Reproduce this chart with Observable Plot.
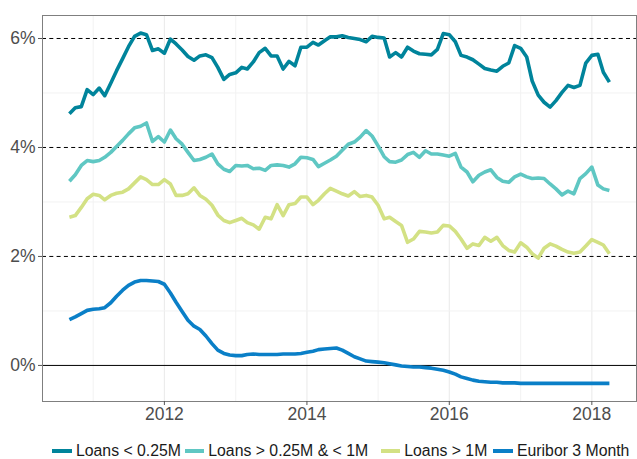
<!DOCTYPE html>
<html><head><meta charset="utf-8">
<script src="https://cdn.jsdelivr.net/npm/d3@7"></script>
<script src="https://cdn.jsdelivr.net/npm/@observablehq/plot@0.6"></script>
<style>
body{margin:0;background:#fff;font-family:"Liberation Sans",Arial,sans-serif;}
#legend{position:relative;width:637px;height:31px;font-size:15.8px;line-height:15.8px;color:#1a1a1a;white-space:nowrap}
.key{position:absolute;top:21.3px;width:19.5px;height:3.5px}
.lab{position:absolute;top:15.3px}
</style></head><body><div id="chart"></div><div id="legend"></div>
<script>
const seriesNames = ["Loans < 0.25M", "Loans > 0.25M & < 1M", "Loans > 1M", "Euribor 3 Month"];
const seriesColors = ["#00849b", "#5fc7c3", "#d3e184", "#0a7fc7"];
// monthly, Sep 2010 .. Apr 2018
const loansSmall = [4.62,4.73,4.75,5.06,4.97,5.09,4.95,5.18,5.41,5.63,5.85,6.04,6.10,6.07,5.78,5.81,5.73,5.99,5.90,5.79,5.67,5.60,5.68,5.70,5.65,5.47,5.25,5.34,5.37,5.47,5.44,5.57,5.74,5.82,5.68,5.68,5.44,5.58,5.50,5.84,5.84,5.93,5.88,5.96,6.03,6.03,6.05,6.02,6.00,5.98,5.94,6.04,6.02,6.01,5.66,5.74,5.66,5.84,5.77,5.72,5.71,5.70,5.80,6.09,6.07,5.94,5.69,5.66,5.61,5.53,5.45,5.42,5.40,5.49,5.55,5.87,5.82,5.66,5.22,4.96,4.83,4.74,4.86,5.01,5.14,5.10,5.14,5.55,5.69,5.71,5.38,5.20];
const loansMid = [3.38,3.50,3.67,3.76,3.74,3.76,3.82,3.91,4.02,4.13,4.25,4.36,4.39,4.45,4.11,4.20,4.10,4.32,4.16,4.06,3.91,3.76,3.78,3.82,3.88,3.70,3.60,3.56,3.67,3.66,3.67,3.61,3.62,3.58,3.67,3.68,3.67,3.64,3.70,3.82,3.81,3.78,3.65,3.71,3.77,3.84,3.95,4.06,4.10,4.19,4.31,4.21,4.03,3.83,3.74,3.73,3.77,3.87,3.91,3.82,3.94,3.88,3.88,3.86,3.84,3.89,3.64,3.55,3.37,3.49,3.55,3.59,3.45,3.38,3.36,3.46,3.51,3.46,3.43,3.44,3.43,3.33,3.24,3.13,3.20,3.15,3.43,3.52,3.64,3.31,3.24,3.21];
const loansLarge = [2.72,2.75,2.90,3.06,3.14,3.12,3.04,3.12,3.16,3.18,3.24,3.35,3.46,3.41,3.32,3.32,3.41,3.33,3.12,3.12,3.15,3.26,3.12,3.05,2.94,2.76,2.66,2.62,2.66,2.70,2.62,2.58,2.50,2.72,2.69,2.95,2.75,2.95,2.97,3.09,3.09,2.95,3.03,3.15,3.25,3.20,3.15,3.11,3.19,3.10,3.12,3.09,2.94,2.69,2.72,2.64,2.57,2.26,2.32,2.46,2.45,2.43,2.45,2.57,2.56,2.46,2.32,2.15,2.23,2.20,2.35,2.28,2.35,2.20,2.11,2.08,2.25,2.17,2.05,1.97,2.15,2.23,2.19,2.13,2.08,2.06,2.08,2.19,2.31,2.26,2.21,2.05];
const euribor3m = [0.84,0.89,0.95,1.01,1.03,1.04,1.06,1.15,1.27,1.38,1.47,1.53,1.56,1.56,1.55,1.54,1.49,1.33,1.16,0.99,0.83,0.72,0.66,0.54,0.40,0.28,0.22,0.19,0.18,0.18,0.20,0.21,0.20,0.20,0.20,0.20,0.21,0.21,0.21,0.22,0.24,0.26,0.29,0.30,0.31,0.32,0.28,0.22,0.16,0.12,0.08,0.07,0.06,0.05,0.03,0.01,-0.01,-0.02,-0.03,-0.03,-0.04,-0.05,-0.07,-0.09,-0.12,-0.16,-0.21,-0.24,-0.27,-0.29,-0.30,-0.31,-0.31,-0.32,-0.32,-0.32,-0.33,-0.33,-0.33,-0.33,-0.33,-0.33,-0.33,-0.33,-0.33,-0.33,-0.33,-0.33,-0.33,-0.33,-0.33,-0.33];
const yTicks = [0, 2, 4, 6];
const yMinor = [1, 3, 5];
const xMajorYears = [2012, 2014, 2016, 2018];
const xMinorYears = [2011, 2013, 2015, 2017];

const months = d3.utcMonth.range(new Date(Date.UTC(2010, 8, 1)), new Date(Date.UTC(2018, 4, 1)));
const allSeries = [loansSmall, loansMid, loansLarge, euribor3m];
const rows = allSeries.flatMap((vals, s) => vals.map((v, i) => ({date: months[i], value: v, series: seriesNames[s]})));
const yearDate = y => new Date(Date.UTC(y, 0, 1));

const chart = Plot.plot({
  width: 637, height: 428,
  marginLeft: 42, marginRight: 1, marginTop: 15, marginBottom: 27,
  style: {fontFamily: '"Liberation Sans", Arial, sans-serif', fontSize: "17.5px", background: "#fff"},
  x: {type: "utc", domain: [new Date(Date.UTC(2010, 3, 16)), new Date(Date.UTC(2018, 7, 18))]},
  y: {domain: [-0.662, 6.422]},
  color: {domain: seriesNames, range: seriesColors},
  marks: [
    Plot.ruleX(xMinorYears.map(yearDate), {stroke: "#f2f2f2", strokeWidth: 1}),
    Plot.ruleX(xMajorYears.map(yearDate), {stroke: "#ebebeb", strokeWidth: 1.1}),
    Plot.ruleY(yMinor, {stroke: "#f2f2f2", strokeWidth: 1}),
    Plot.ruleY(yTicks.filter(d => d !== 0), {stroke: "#000", strokeWidth: 1, strokeDasharray: "4,3.3"}),
    Plot.ruleY([0], {stroke: "#000", strokeWidth: 1}),
    Plot.line(rows, {x: "date", y: "value", z: "series", stroke: "series", strokeWidth: 3.6, strokeLinejoin: "round", strokeLinecap: "butt"}),
    Plot.frame({stroke: "#7f7f7f", strokeWidth: 1}),
    Plot.axisX(xMajorYears.map(yearDate), {tickSize: 4, tickPadding: 2.3, tickFormat: d3.utcFormat("%Y"), stroke: "#555", fill: "#4d4d4d", label: null}),
    Plot.axisY(yTicks, {tickSize: 4, tickPadding: 3, tickFormat: d => d + "%", stroke: "#555", fill: "#4d4d4d", label: null})
  ]
});
document.getElementById("chart").append(chart);

// legend (HTML, below the plot SVG)
const legendTextLeft = [76, 208.3, 404.3, 517];
const legend = document.getElementById("legend");
seriesNames.forEach((name, i) => {
  const key = document.createElement("div");
  key.className = "key";
  key.style.left = (legendTextLeft[i] - 4.3 - 19.5) + "px";
  key.style.background = seriesColors[i];
  const label = document.createElement("span");
  label.className = "lab";
  label.style.left = legendTextLeft[i] + "px";
  label.textContent = name;
  legend.append(key, label);
});
</script></body></html>
